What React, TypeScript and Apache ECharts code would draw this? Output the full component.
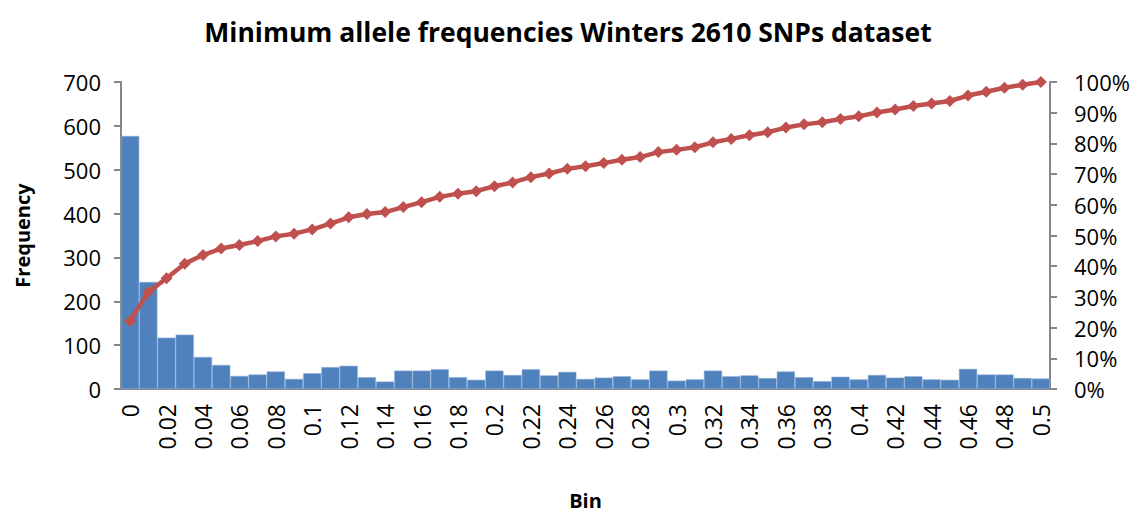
import React, { useEffect, useRef } from "react";
import * as echarts from "echarts";

const bins: string[] = [
  "0", "0.01", "0.02", "0.03", "0.04", "0.05", "0.06", "0.07", "0.08", "0.09",
  "0.1", "0.11", "0.12", "0.13", "0.14", "0.15", "0.16", "0.17", "0.18", "0.19",
  "0.2", "0.21", "0.22", "0.23", "0.24", "0.25", "0.26", "0.27", "0.28", "0.29",
  "0.3", "0.31", "0.32", "0.33", "0.34", "0.35", "0.36", "0.37", "0.38", "0.39",
  "0.4", "0.41", "0.42", "0.43", "0.44", "0.45", "0.46", "0.47", "0.48", "0.49",
  "0.5",
];

const frequency: number[] = [
  577, 244, 117, 124, 73, 55, 30, 33, 40, 23,
  36, 50, 53, 27, 17, 42, 42, 45, 27, 21,
  42, 32, 45, 31, 39, 23, 26, 29, 22, 42,
  19, 22, 42, 29, 31, 25, 40, 27, 18, 28,
  22, 32, 26, 29, 22, 21, 46, 33, 33, 25,
  24,
];

const total = frequency.reduce((a, b) => a + b, 0);
let running = 0;
const cumulative: number[] = frequency.map((f) => {
  running += f;
  return running / total;
});

const FONT = "'Open Sans', 'Noto Sans', sans-serif";

export default function App() {
  const ref = useRef<HTMLDivElement>(null);
  useEffect(() => {
    document.body.style.margin = "0";
    if (!ref.current) return;
    const chart = echarts.init(ref.current, undefined, { renderer: "svg" });
    chart.setOption({
      animation: false,
      backgroundColor: "#ffffff",
      title: {
        text: "Minimum allele frequencies Winters 2610 SNPs dataset",
        left: "center",
        top: 13,
        textStyle: { fontFamily: FONT, fontWeight: "bold", fontSize: 26.5, color: "#000" },
      },
      grid: { left: 121, right: 86, top: 82, bottom: 119, containLabel: false },
      xAxis: {
        type: "category",
        data: bins,
        boundaryGap: true,
        name: "Bin",
        nameLocation: "middle",
        nameGap: 101,
        nameTextStyle: { fontFamily: FONT, fontWeight: "bold", fontSize: 20, color: "#000" },
        axisLine: { show: true, lineStyle: { color: "#868686", width: 2 } },
        axisTick: { show: false },
        axisLabel: {
          interval: 1,
          rotate: 90,
          margin: 15,
          fontFamily: FONT,
          fontSize: 23,
          color: "#000",
        },
        splitLine: { show: false },
      },
      yAxis: [
        {
          type: "value",
          min: 0,
          max: 700,
          interval: 100,
          name: "Frequency",
          nameLocation: "middle",
          nameGap: 89,
          nameRotate: 90,
          nameTextStyle: { fontFamily: FONT, fontWeight: "bold", fontSize: 20, color: "#000" },
          axisLine: { show: true, lineStyle: { color: "#868686", width: 2 } },
          axisTick: { show: true, length: 7, lineStyle: { color: "#868686", width: 2 } },
          axisLabel: { margin: 20, fontFamily: FONT, fontSize: 22, color: "#000" },
          splitLine: { show: false },
        },
        {
          type: "value",
          min: 0,
          max: 1,
          interval: 0.1,
          position: "right",
          axisLine: { show: true, lineStyle: { color: "#868686", width: 2 } },
          axisTick: { show: true, length: 7, lineStyle: { color: "#868686", width: 2 } },
          axisLabel: {
            margin: 24,
            fontFamily: FONT,
            fontSize: 22,
            color: "#000",
            formatter: (v: number) => Math.round(v * 100) + "%",
          },
          splitLine: { show: false },
        },
      ],
      series: [
        {
          name: "Frequency",
          type: "bar",
          data: frequency,
          barCategoryGap: "0%",
          itemStyle: { color: "#4F81BD", borderColor: "#8FAFD6", borderWidth: 0.6 },
        },
        {
          name: "Cumulative %",
          type: "line",
          yAxisIndex: 1,
          data: cumulative,
          symbol: "diamond",
          symbolSize: 12,
          showAllSymbol: true,
          lineStyle: { color: "#C0504D", width: 4.5 },
          itemStyle: { color: "#C0504D" },
        },
      ],
    });
    return () => chart.dispose();
  }, []);
  return (
    <div
      ref={ref}
      style={{ width: 1136, height: 515, position: "absolute", left: 0, top: 0 }}
    />
  );
}
